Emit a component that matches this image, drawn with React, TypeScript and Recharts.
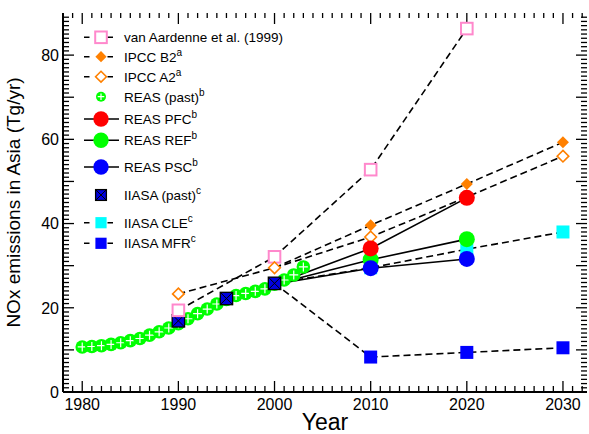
import React from "react";
import { ComposedChart, Legend, Line, ReferenceLine, Scatter, XAxis, YAxis } from "recharts";

// ---- data (Tg/yr) ----
const reasPastYears = [
  1980, 1981, 1982, 1983, 1984, 1985, 1986, 1987, 1988, 1989, 1990, 1991,
  1992, 1993, 1994, 1995, 1996, 1997, 1998, 1999, 2000, 2001, 2002, 2003,
];
const reasPastValues = [
  10.7, 10.8, 11.0, 11.3, 11.7, 12.2, 12.7, 13.5, 14.3, 15.2, 16.2, 17.4,
  18.6, 19.7, 20.9, 22.0, 22.9, 23.4, 23.9, 24.5, 25.6, 26.6, 27.8, 29.7,
];

const aardenneYears = [1990, 2000, 2010, 2020];
const aardenneValues = [19.4, 32.1, 52.8, 86.3];

const ipccA2Years = [1990, 2000, 2010, 2020, 2030];
const ipccA2Values = [23.3, 29.5, 36.8, 46.3, 56.0];
const ipccB2Years = [2000, 2010, 2020, 2030];
const ipccB2Values = [29.5, 39.6, 49.4, 59.3];

const reasScenarioYears = [2000, 2010, 2020];
const reasPfcValues = [25.6, 34.1, 46.1];
const reasRefValues = [25.6, 31.4, 36.3];
const reasPscValues = [25.6, 29.4, 31.6];

const iiasaPastYears = [1990, 1995, 2000];
const iiasaPastValues = [16.9, 22.2, 25.8];
const iiasaScenarioYears = [2000, 2010, 2020, 2030];
const iiasaCleValues = [25.8, 29.5, 33.9, 38.0];
const iiasaMfrValues = [25.8, 8.3, 9.4, 10.5];

const xLabelTicks = [1980, 1990, 2000, 2010, 2020, 2030];
const yLabelTicks = [0, 20, 40, 60, 80];
const xMinorTicks = Array.from({ length: 54 }, (_, i) => 1979 + i); // 1979..2032
const yMinorTicks = Array.from({ length: 89 }, (_, i) => 1 + i); // 1..89

const legendNames = [
  "van Aardenne et al. (1999)",
  "IPCC B2",
  "IPCC A2",
  "REAS (past)",
  "REAS PFC",
  "REAS REF",
  "REAS PSC",
  "IIASA (past)",
  "IIASA CLE",
  "IIASA MFR",
];
const legendNotes = ["", "a", "a", "b", "b", "b", "b", "c", "c", "c"];

// ---- layout / styling ----
const W = 589;
const H = 434;
const MARGIN = { top: 13, right: 2, bottom: 0, left: 0 };
const Y_AXIS_W = 63;
const X_AXIS_H = 42;
const X_DOMAIN: [number, number] = [1978, 2032.5];
const Y_DOMAIN: [number, number] = [0, 90];
// pixel size of one data unit, used only to give tick marks a fixed pixel length
const PX_PER_YEAR = (W - MARGIN.left - MARGIN.right - Y_AXIS_W) / (X_DOMAIN[1] - X_DOMAIN[0]);
const PX_PER_UNIT = (H - MARGIN.top - MARGIN.bottom - X_AXIS_H) / (Y_DOMAIN[1] - Y_DOMAIN[0]);

const FONT = '"Liberation Sans", Arial, Helvetica, sans-serif';
const PINK = "#ff88cc";
const ORANGE = "#ff8000";
const GREEN = "#00ff00";
const RED = "#ff0000";
const BLUE = "#0000ff";
const CYAN = "#00ffff";
const NAVY = "#0000e0";
const DASH = "7 4";

type Kind =
  | "aardenne"
  | "b2"
  | "a2"
  | "reasPast"
  | "pfc"
  | "ref"
  | "psc"
  | "iiasaPast"
  | "cle"
  | "mfr";

const legendKinds: Kind[] = ["aardenne", "b2", "a2", "reasPast", "pfc", "ref", "psc", "iiasaPast", "cle", "mfr"];
const legendRows = [37.3, 56.7, 76.7, 96.7, 119, 140.3, 167, 195, 222.7, 243.3];

const toPoints = (years: number[], values: number[]) =>
  years.map((year, i) => ({ year, value: values[i] }));

function diamond(cx: number, cy: number, h: number) {
  return `${cx},${cy - h} ${cx + h},${cy} ${cx},${cy + h} ${cx - h},${cy}`;
}

function Marker({ kind, cx, cy, legend = false }: { kind: Kind; cx: number; cy: number; legend?: boolean }) {
  switch (kind) {
    case "aardenne":
      return <rect x={cx - 5.8} y={cy - 5.8} width={11.6} height={11.6} fill="#fff" stroke={PINK} strokeWidth={2} />;
    case "b2":
      return <polygon points={diamond(cx, cy, legend ? 5.6 : 6)} fill={ORANGE} />;
    case "a2":
      return <polygon points={diamond(cx, cy, legend ? 5.4 : 5.8)} fill="#fff" stroke={ORANGE} strokeWidth={1.6} />;
    case "reasPast": {
      const r = legend ? 5 : 6.8;
      const a = r * 0.66;
      return (
        <g>
          <circle cx={cx} cy={cy} r={r} fill={GREEN} />
          <path d={`M${cx - a},${cy}H${cx + a}M${cx},${cy - a}V${cy + a}`} stroke="#fff" strokeWidth={1.2} />
        </g>
      );
    }
    case "pfc":
      return <circle cx={cx} cy={cy} r={legend ? 7.7 : 8} fill={RED} />;
    case "ref":
      return <circle cx={cx} cy={cy} r={legend ? 7.7 : 8} fill={GREEN} />;
    case "psc":
      return <circle cx={cx} cy={cy} r={legend ? 7.7 : 8} fill={BLUE} />;
    case "iiasaPast": {
      const s = legend ? 5.4 : 6.2;
      return (
        <g>
          <rect x={cx - s} y={cy - s} width={2 * s} height={2 * s} fill={NAVY} stroke="#000" strokeWidth={1.3} />
          <path d={`M${cx - s},${cy - s}L${cx + s},${cy + s}M${cx + s},${cy - s}L${cx - s},${cy + s}`} stroke="#000" strokeWidth={1} />
        </g>
      );
    }
    case "cle": {
      const s = legend ? 5.6 : 6.5;
      return <rect x={cx - s} y={cy - s} width={2 * s} height={2 * s} fill={CYAN} />;
    }
    case "mfr": {
      const s = legend ? 5.6 : 6.5;
      return <rect x={cx - s} y={cy - s} width={2 * s} height={2 * s} fill={BLUE} />;
    }
  }
  return null;
}

const shapeFor = (kind: Kind) => (props: any) =>
  props.cx == null ? <g /> : <Marker kind={kind} cx={props.cx} cy={props.cy} />;

function BottomLabel({ x, y, payload }: any) {
  if (!xLabelTicks.includes(payload.value)) return <g />;
  return (
    <text x={x} y={y + 18} textAnchor="middle" fontSize={16} fill="#000" fontFamily={FONT}>
      {payload.value}
    </text>
  );
}

function LeftLabel({ x, y, payload }: any) {
  if (!yLabelTicks.includes(payload.value)) return <g />;
  return (
    <text x={x - 4} y={y} dy="0.36em" textAnchor="end" fontSize={16} fill="#000" fontFamily={FONT}>
      {payload.value}
    </text>
  );
}

function LegendBox() {
  return (
    <svg width={330} height={260} style={{ display: "block" }}>
      {legendNames.map((name, i) => {
        const kind = legendKinds[i];
        const cy = legendRows[i];
        const dashed = ["aardenne", "b2", "a2", "cle", "mfr"].includes(kind);
        const solid = ["pfc", "ref", "psc"].includes(kind);
        return (
          <g key={name}>
            {dashed && <path d={`M84,${cy}H89.5M107.5,${cy}H113`} stroke="#000" strokeWidth={1.6} />}
            {solid && <line x1={84} x2={119} y1={cy} y2={cy} stroke="#000" strokeWidth={1.6} />}
            <Marker kind={kind} cx={101} cy={cy} legend />
            <text x={124} y={cy + 5} fontSize={13.5} fill="#000" fontFamily={FONT}>
              {name}
              {legendNotes[i] && (
                <tspan fontSize={10} dy={-6}>
                  {legendNotes[i]}
                </tspan>
              )}
            </text>
          </g>
        );
      })}
    </svg>
  );
}

export default function App() {
  const reasPast = toPoints(reasPastYears, reasPastValues);
  const aardenne = toPoints(aardenneYears, aardenneValues);
  const a2 = toPoints(ipccA2Years, ipccA2Values);
  const b2 = toPoints(ipccB2Years, ipccB2Values);
  const pfc = toPoints(reasScenarioYears, reasPfcValues);
  const ref = toPoints(reasScenarioYears, reasRefValues);
  const psc = toPoints(reasScenarioYears, reasPscValues);
  const iiasaPast = toPoints(iiasaPastYears, iiasaPastValues);
  const cle = toPoints(iiasaScenarioYears, iiasaCleValues);
  const mfr = toPoints(iiasaScenarioYears, iiasaMfrValues);

  const axisLine = { stroke: "#000", strokeWidth: 2 };
  const tickStyle = { stroke: "#000", strokeWidth: 1.3 };

  // inward tick marks on all four sides of the frame
  const xTickLen = (v: number) => (v % 10 === 0 ? 11 : 6) / PX_PER_UNIT;
  const topTickLen = (v: number) => (v % 10 === 0 ? 11 : 5) / PX_PER_UNIT;
  const yTickLen = (v: number) => (v % 10 === 0 ? 11 : 6) / PX_PER_YEAR;
  const tickMarks = [
    ...xMinorTicks.map((v) => (
      <ReferenceLine key={`b${v}`} segment={[{ x: v, y: Y_DOMAIN[0] }, { x: v, y: Y_DOMAIN[0] + xTickLen(v) }]} {...tickStyle} />
    )),
    ...xMinorTicks.map((v) => (
      <ReferenceLine key={`t${v}`} segment={[{ x: v, y: Y_DOMAIN[1] }, { x: v, y: Y_DOMAIN[1] - topTickLen(v) }]} {...tickStyle} />
    )),
    ...yMinorTicks.map((v) => (
      <ReferenceLine key={`l${v}`} segment={[{ x: X_DOMAIN[0], y: v }, { x: X_DOMAIN[0] + yTickLen(v), y: v }]} {...tickStyle} />
    )),
    ...yMinorTicks.map((v) => (
      <ReferenceLine key={`r${v}`} segment={[{ x: X_DOMAIN[1], y: v }, { x: X_DOMAIN[1] - yTickLen(v), y: v }]} {...tickStyle} />
    )),
  ];

  return (
    <div style={{ position: "absolute", left: 0, top: 0, width: W, height: H, background: "#fff", fontFamily: FONT }}>
      <ComposedChart width={W} height={H} margin={MARGIN}>
        <XAxis
          dataKey="year"
          type="number"
          domain={X_DOMAIN}
          allowDataOverflow
          ticks={xLabelTicks}
          interval={0}
          height={X_AXIS_H}
          tickSize={0}
          tickMargin={0}
          axisLine={axisLine}
          tickLine={false}
          tick={(p: any) => <BottomLabel {...p} />}
          label={{ value: "Year", position: "insideBottom", offset: 4, style: { fontSize: 23, fill: "#000", fontFamily: FONT } }}
        />
        <XAxis xAxisId="top" orientation="top" type="number" domain={X_DOMAIN} allowDataOverflow height={0} axisLine={axisLine} tickLine={false} tick={false} />
        <YAxis
          dataKey="value"
          type="number"
          domain={Y_DOMAIN}
          allowDataOverflow
          ticks={yLabelTicks}
          interval={0}
          width={Y_AXIS_W}
          tickSize={0}
          tickMargin={0}
          axisLine={axisLine}
          tickLine={false}
          tick={(p: any) => <LeftLabel {...p} />}
          label={{
            value: "NOx emissions in Asia (Tg/yr)",
            angle: -90,
            position: "insideLeft",
            offset: 13,
            style: { textAnchor: "middle", fontSize: 19, fill: "#000", fontFamily: FONT },
          }}
        />
        <YAxis yAxisId="right" orientation="right" type="number" domain={Y_DOMAIN} allowDataOverflow width={0} axisLine={axisLine} tickLine={false} tick={false} />

        {tickMarks}

        {/* connecting lines */}
        <Line data={aardenne} dataKey="value" stroke="#000" strokeWidth={1.6} strokeDasharray={DASH} dot={false} activeDot={false} isAnimationActive={false} />
        <Line data={a2} dataKey="value" stroke="#000" strokeWidth={1.6} strokeDasharray={DASH} dot={false} activeDot={false} isAnimationActive={false} />
        <Line data={b2} dataKey="value" stroke="#000" strokeWidth={1.6} strokeDasharray={DASH} dot={false} activeDot={false} isAnimationActive={false} />
        <Line data={cle} dataKey="value" stroke="#000" strokeWidth={1.6} strokeDasharray={DASH} dot={false} activeDot={false} isAnimationActive={false} />
        <Line data={mfr} dataKey="value" stroke="#000" strokeWidth={1.6} strokeDasharray={DASH} dot={false} activeDot={false} isAnimationActive={false} />
        <Line data={pfc} dataKey="value" stroke="#000" strokeWidth={1.6} dot={false} activeDot={false} isAnimationActive={false} />
        <Line data={ref} dataKey="value" stroke="#000" strokeWidth={1.6} dot={false} activeDot={false} isAnimationActive={false} />
        <Line data={psc} dataKey="value" stroke="#000" strokeWidth={1.6} dot={false} activeDot={false} isAnimationActive={false} />

        {/* markers */}
        <Scatter data={reasPast} dataKey="value" shape={shapeFor("reasPast")} isAnimationActive={false} />
        <Scatter data={iiasaPast} dataKey="value" shape={shapeFor("iiasaPast")} isAnimationActive={false} />
        <Scatter data={aardenne} dataKey="value" shape={shapeFor("aardenne")} isAnimationActive={false} />
        <Scatter data={a2} dataKey="value" shape={shapeFor("a2")} isAnimationActive={false} />
        <Scatter data={b2.slice(1)} dataKey="value" shape={shapeFor("b2")} isAnimationActive={false} />
        <Scatter data={cle.slice(1)} dataKey="value" shape={shapeFor("cle")} isAnimationActive={false} />
        <Scatter data={mfr.slice(1)} dataKey="value" shape={shapeFor("mfr")} isAnimationActive={false} />
        <Scatter data={ref.slice(1)} dataKey="value" shape={shapeFor("ref")} isAnimationActive={false} />
        <Scatter data={pfc.slice(1)} dataKey="value" shape={shapeFor("pfc")} isAnimationActive={false} />
        <Scatter data={psc.slice(1)} dataKey="value" shape={shapeFor("psc")} isAnimationActive={false} />

        <Legend
          layout="vertical"
          align="center"
          verticalAlign="middle"
          content={() => <LegendBox />}
          wrapperStyle={{ left: 0, top: 0, width: 330, height: 260 }}
        />
      </ComposedChart>
    </div>
  );
}
